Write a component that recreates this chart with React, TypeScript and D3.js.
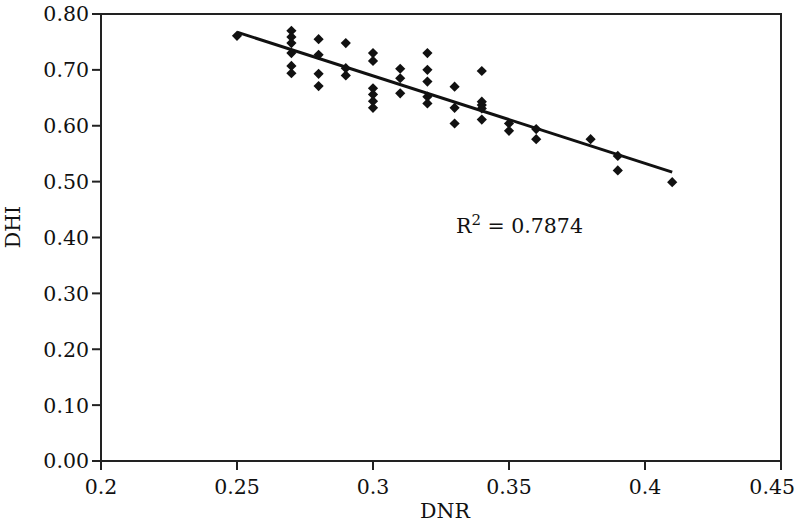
import React from "react";
import * as d3 from "d3";

// DNR vs DHI readings
const dnr = [
  0.25,
  0.27, 0.27, 0.27, 0.27, 0.27, 0.27,
  0.28, 0.28, 0.28, 0.28,
  0.29, 0.29, 0.29,
  0.3, 0.3, 0.3, 0.3, 0.3, 0.3,
  0.31, 0.31, 0.31,
  0.32, 0.32, 0.32, 0.32, 0.32,
  0.33, 0.33, 0.33,
  0.34, 0.34, 0.34, 0.34, 0.34,
  0.35, 0.35,
  0.36, 0.36,
  0.38,
  0.39, 0.39,
  0.41,
];
const dhi = [
  0.761,
  0.77, 0.759, 0.748, 0.73, 0.707, 0.694,
  0.755, 0.727, 0.693, 0.671,
  0.748, 0.703, 0.69,
  0.73, 0.716, 0.667, 0.656, 0.644, 0.632,
  0.702, 0.685, 0.658,
  0.73, 0.7, 0.679, 0.652, 0.64,
  0.67, 0.632, 0.604,
  0.698, 0.643, 0.637, 0.631, 0.611,
  0.604, 0.591,
  0.594, 0.576,
  0.576,
  0.546, 0.52,
  0.499,
];
const xTicks = [0.2, 0.25, 0.3, 0.35, 0.4, 0.45];
const yTicks = [0, 0.1, 0.2, 0.3, 0.4, 0.5, 0.6, 0.7, 0.8];
const rLabel = "0.7874";

const W = 795;
const H = 523;
const left = 101, right = 781, top = 14, bottom = 461;
const font = "DejaVu Serif";

export default function App() {
  const x = d3.scaleLinear().domain([0.2, 0.45]).range([left, right]);
  const y = d3.scaleLinear().domain([0, 0.8]).range([bottom, top]);

  // least squares fit for the trend line
  const mx = d3.mean(dnr)!;
  const my = d3.mean(dhi)!;
  let sxy = 0, sxx = 0;
  dnr.forEach((v, i) => {
    sxy += (v - mx) * (dhi[i] - my);
    sxx += (v - mx) * (v - mx);
  });
  const slope = sxy / sxx;
  const icpt = my - slope * mx;
  const [x0, x1] = d3.extent(dnr) as [number, number];
  const line = d3.line<number>().x((d) => x(d)).y((d) => y(icpt + slope * d));

  // square turned 45deg, like Excel's diamond marker
  const diamond = d3.symbol().type(d3.symbolSquare).size(52)();

  return (
    <div style={{ position: "absolute", left: 0, top: 0 }}>
      <svg width={W} height={H} style={{ display: "block", background: "#fff" }}>
        <rect x={left} y={top} width={right - left} height={bottom - top}
          fill="none" stroke="#222" strokeWidth={2} />
        {yTicks.map((t) => (
          <g key={"y" + t}>
            <line x1={left - 9} x2={left} y1={y(t)} y2={y(t)} stroke="#222" strokeWidth={2} />
            <text x={left - 12} y={y(t)} dy="0.36em" textAnchor="end"
              fontFamily={font} fontSize={20.5} fill="#111">{t.toFixed(2)}</text>
          </g>
        ))}
        {xTicks.map((t, i) => {
          const last = i === xTicks.length - 1;
          return (
            <g key={"x" + t}>
              <line x1={x(t)} x2={x(t)} y1={bottom} y2={bottom + 9} stroke="#222" strokeWidth={2} />
              <text x={last ? W : x(t)} y={bottom + 33} textAnchor={last ? "end" : "middle"}
                fontFamily={font} fontSize={20.5} fill="#111">{String(t)}</text>
            </g>
          );
        })}
        <text x={445} y={518} textAnchor="middle" fontFamily={font} fontSize={20.5} fill="#111">DNR</text>
        <text transform={`translate(20,227) rotate(-90)`} textAnchor="middle"
          fontFamily={font} fontSize={20.5} fill="#111">DHI</text>

        <path d={line([x0, x1]) ?? ""} fill="none" stroke="#111" strokeWidth={3} />
        {dnr.map((v, i) => (
          <path key={i} d={diamond ?? ""} transform={`translate(${x(v)},${y(dhi[i])}) rotate(45)`} fill="#111" />
        ))}

        <text x={456} y={233} fontFamily={font} fontSize={20.5} fill="#111">
          R<tspan dy={-8} fontSize={15}>2</tspan><tspan dy={8}> = {rLabel}</tspan>
        </text>
      </svg>
    </div>
  );
}
